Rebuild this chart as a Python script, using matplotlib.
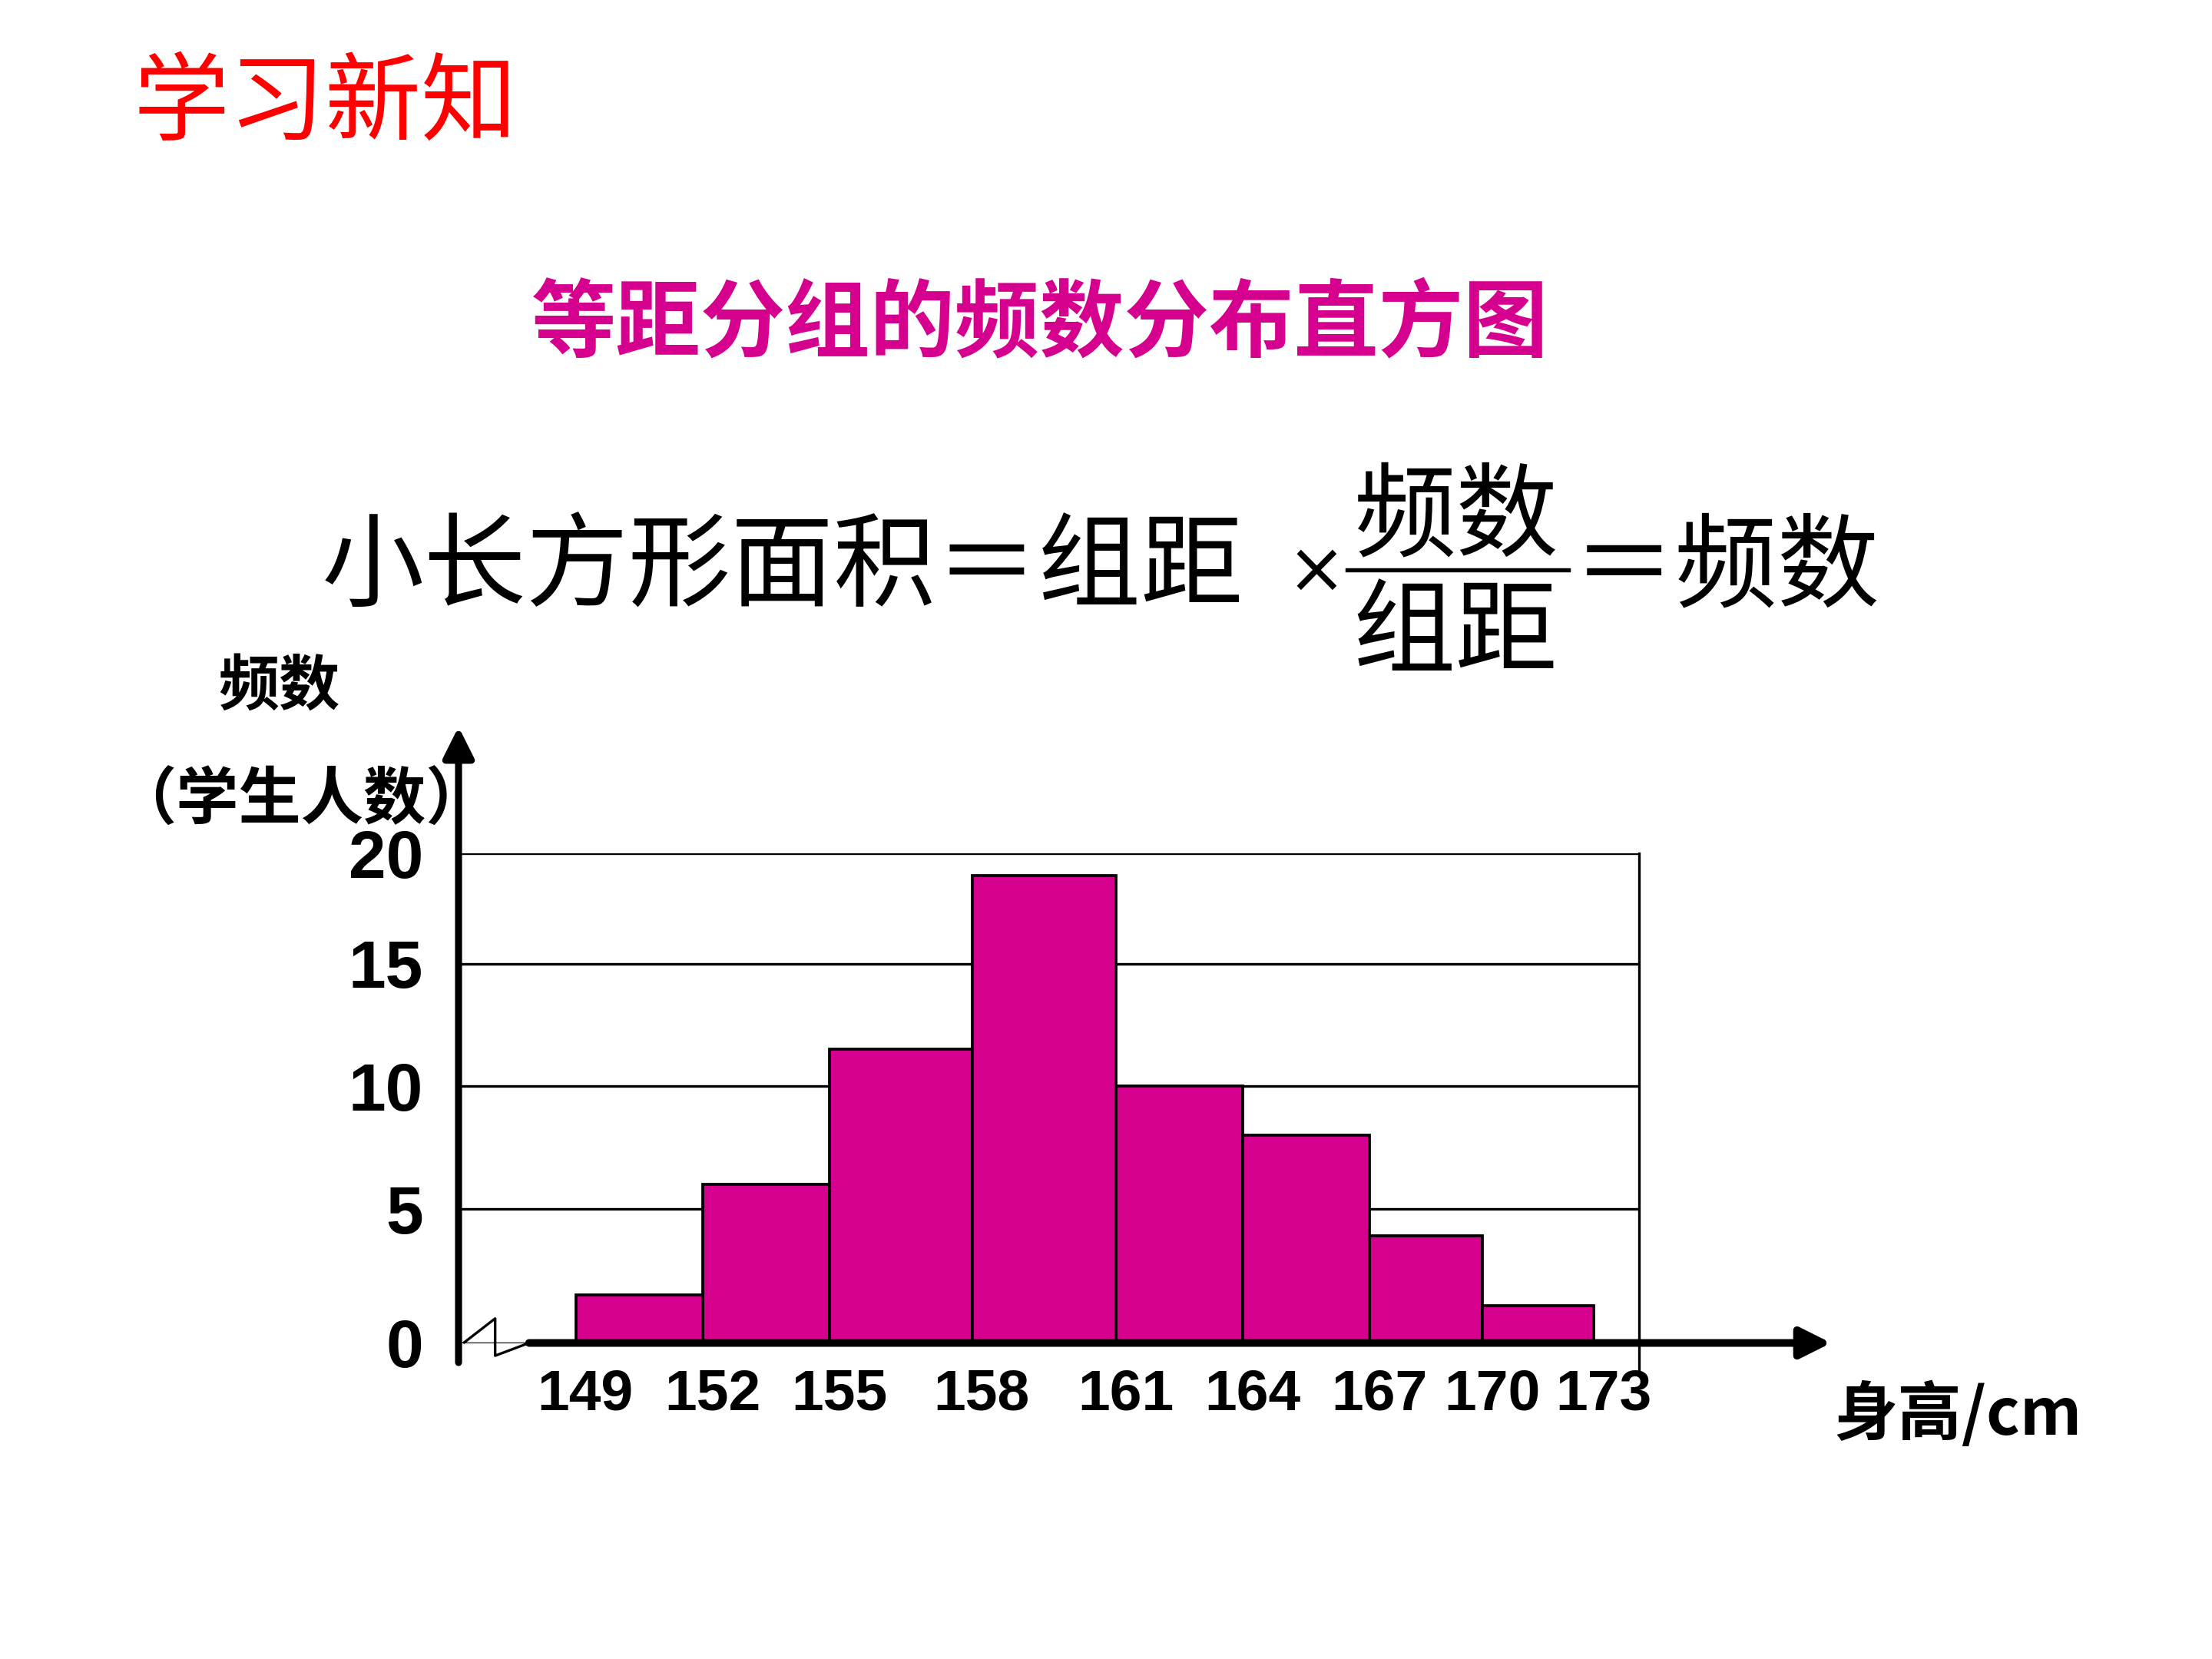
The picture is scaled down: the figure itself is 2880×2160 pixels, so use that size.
import matplotlib
matplotlib.use("Agg")
from matplotlib import pyplot as plt
from matplotlib.lines import Line2D
import matplotlib.transforms as mtransforms
import numpy as np

plt.rcParams['font.family'] = ['Noto Sans CJK SC', 'DejaVu Sans']

# height groups (cm) and number of students in each group
edges = [149, 152, 155, 158, 161, 164, 167, 170, 173]
counts = [1.8, 6, 11.5, 19, 10, 8, 4, 1.4]
yticks = [0, 5, 10, 15, 20]

# the slide is drawn by hand: uneven spacing of the grid lines and group borders
grid_pos = [0, 95, 182, 269, 347]
edge_pos = [408, 498, 588, 689, 791, 881, 971, 1051, 1130]

bar_color = '#D6008F'


def fwd(v):
    return np.interp(v, yticks, grid_pos)


def inv(p):
    return np.interp(p, grid_pos, yticks)


def xfwd(v):
    v = np.asarray(v, dtype=float)
    out = np.interp(v, edges, edge_pos)
    out = np.where(v < edges[0], edge_pos[0] + (v - edges[0]) * 30, out)
    out = np.where(v > edges[-1], edge_pos[-1] + (v - edges[-1]) * 30, out)
    return out


def xinv(p):
    p = np.asarray(p, dtype=float)
    out = np.interp(p, edge_pos, edges)
    out = np.where(p < edge_pos[0], edges[0] + (p - edge_pos[0]) / 30, out)
    out = np.where(p > edge_pos[-1], edges[-1] + (p - edge_pos[-1]) / 30, out)
    return out


fig = plt.figure(figsize=(9.6, 7.2), dpi=300)

# slide texts
fig.text(0.147, 0.936, "学习新知", color='red', fontsize=30, ha='center', va='center')
fig.text(0.470, 0.804, "等距分组的频数分布直方图", color=bar_color, fontsize=26.5,
         fontweight='bold', ha='center', va='center')

# formula
fig.text(0.1454, 0.6566, "小长方形面积＝组距", fontsize=32, ha='left', va='center')
fig.text(0.595, 0.655, "×", fontsize=22, ha='center', va='center', fontfamily='DejaVu Sans')
fig.text(0.658, 0.687, "频数", fontsize=32, ha='center', va='center')
fig.text(0.658, 0.617, "组距", fontsize=32, ha='center', va='center')
fig.add_artist(Line2D([0.609, 0.709], [0.6565, 0.6565], color='black', lw=1.3))
fig.text(0.711, 0.6566, "＝频数", fontsize=32, ha='left', va='center')

fig.text(0.126, 0.586, "频数", fontsize=19, fontweight='bold', ha='center', va='center')
fig.text(0.136, 0.517, "（学生人数）", fontsize=19.5, fontweight='bold', ha='center', va='center')
fig.text(0.829, 0.147, "身高/cm", fontsize=20, fontweight='bold', ha='left', va='center')

ax = fig.add_axes([0.2073, 0.1905, 0.5338, 0.2950])
ax.set_yscale('function', functions=(fwd, inv))
ax.set_xscale('function', functions=(xfwd, xinv))
ax.bar(edges[:-1], counts, width=np.diff(edges), align='edge', color=bar_color,
       edgecolor='black', lw=0.9, zorder=3)
ax.set_xlim(146.23, 174.07)
ax.set_ylim(0, 20)

for s in ['left', 'top', 'bottom', 'right']:
    ax.spines[s].set_visible(False)
ax.yaxis.grid(True, color='black', lw=0.8)
ax.set_axisbelow(True)

# right frame line, running a bit below the x axis
ax.plot([1, 1], [-0.06, 1], transform=ax.transAxes, color='black', lw=0.8, clip_on=False)

# axes with arrows
ax.annotate('', xy=(0, 1.259), xycoords='axes fraction', xytext=(0, -0.04),
            textcoords='axes fraction', annotation_clip=False,
            arrowprops=dict(arrowstyle='-|>', color='black', lw=2.2,
                            mutation_scale=20, shrinkA=0, shrinkB=0))
ax.annotate('', xy=(1.1625, 0), xycoords='axes fraction', xytext=(0.0597, 0),
            textcoords='axes fraction', annotation_clip=False,
            arrowprops=dict(arrowstyle='-|>', color='black', lw=2.4,
                            mutation_scale=20, shrinkA=0, shrinkB=0), zorder=5)
# break mark
ax.plot([0.0048, 0.031, 0.031, 0.0597], [0.001, 0.05, -0.026, 0.0],
        transform=ax.transAxes, color='black', lw=0.8, clip_on=False)

ax.set_xticks(edges)
ax.set_xticklabels([str(e) for e in edges], fontfamily='Liberation Sans',
                   fontweight='bold', fontsize=18)
ax.set_yticks(yticks)
ax.set_yticklabels([str(t) for t in yticks], fontfamily='Liberation Sans',
                   fontweight='bold', fontsize=21)
ax.tick_params(axis='x', length=0, pad=8)
ax.tick_params(axis='y', length=0, pad=11)
ax.minorticks_off()

shift = mtransforms.ScaledTranslation(3 / 72, 0, fig.dpi_scale_trans)
for lbl in ax.get_xticklabels():
    lbl.set_transform(lbl.get_transform() + shift)

fig.savefig("out.png", dpi=300)
